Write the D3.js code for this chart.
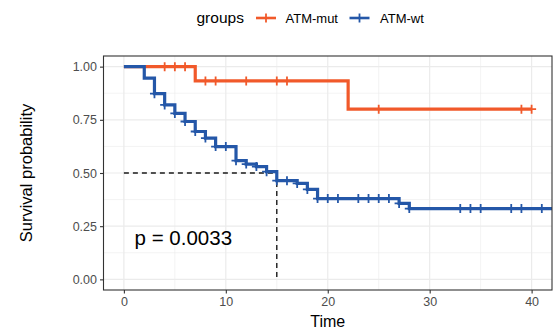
<!DOCTYPE html>
<html>
<head>
<meta charset="utf-8">
<script src="https://cdn.jsdelivr.net/npm/d3@7"></script>
<style>
  body { margin: 0; background: #fff; }
  text { font-family: "Liberation Sans", Arial, sans-serif; }
</style>
</head>
<body>
<div id="chart"></div>
<script>
// data
var groupNames = ["ATM-mut", "ATM-wt"];
var groupColors = ["#F1592A", "#2457A8"];

// step curves: time where survival changes, and the level after it
var mutTimes = [0, 7, 22, 40];
var mutSurv = [1, 0.933, 0.80, 0.80];
var mutCensor = [4, 5, 6, 8, 9, 12, 15, 16, 25, 39, 40];

var wtTimes = [0, 2, 3, 4, 5, 6, 7, 8, 9, 11, 12, 13, 14, 15, 17, 18, 19, 27, 28, 42];
var wtSurv = [1, 0.946, 0.873, 0.82, 0.78, 0.742, 0.695, 0.664, 0.624, 0.558, 0.542, 0.53, 0.506, 0.464, 0.451, 0.423, 0.38, 0.357, 0.333, 0.333];
var wtCensor = [3, 4, 5, 6, 7, 8, 9, 10, 11, 12, 13, 14, 15, 16, 17, 18, 19, 20, 21, 23, 24, 25, 26, 27, 28, 33, 34, 35, 38, 39, 41];

var medianTime = 15;
var pText = "p = 0.0033";

var xTicks = [0, 10, 20, 30, 40];
var xMinor = [5, 15, 25, 35];
var yTicks = [0, 0.25, 0.5, 0.75, 1];
var yMinor = [0.125, 0.375, 0.625, 0.875];

var svgWidth = 553;
var svgHeight = 333;

var margin = { top: 56, right: 1, bottom: 43, left: 103.5 };
var chartWidth = svgWidth - margin.left - margin.right;
var chartHeight = svgHeight - margin.top - margin.bottom;

var x = d3.scaleLinear().domain([-2, 42]).range([0, chartWidth]);
var y = d3.scaleLinear().domain([-0.05, 1.05]).range([chartHeight, 0]);

var svg = d3.select("#chart")
  .append("svg")
  .attr("width", svgWidth)
  .attr("height", svgHeight);

var chartGroup = svg.append("g")
  .attr("transform", `translate(${margin.left}, ${margin.top})`);

// grid
var grid = chartGroup.append("g");
grid.selectAll(".xminor").data(xMinor).enter().append("line")
  .attr("x1", d => x(d)).attr("x2", d => x(d))
  .attr("y1", 0).attr("y2", chartHeight)
  .attr("stroke", "#ebebeb").attr("stroke-width", 0.6);
grid.selectAll(".yminor").data(yMinor).enter().append("line")
  .attr("x1", 0).attr("x2", chartWidth)
  .attr("y1", d => y(d)).attr("y2", d => y(d))
  .attr("stroke", "#ebebeb").attr("stroke-width", 0.6);
grid.selectAll(".xmajor").data(xTicks).enter().append("line")
  .attr("x1", d => x(d)).attr("x2", d => x(d))
  .attr("y1", 0).attr("y2", chartHeight)
  .attr("stroke", "#ebebeb").attr("stroke-width", 1.2);
grid.selectAll(".ymajor").data(yTicks).enter().append("line")
  .attr("x1", 0).attr("x2", chartWidth)
  .attr("y1", d => y(d)).attr("y2", d => y(d))
  .attr("stroke", "#ebebeb").attr("stroke-width", 1.2);

// median lines
chartGroup.append("path")
  .attr("d", `M${x(0)},${y(0.5)}H${x(medianTime)}V${y(0)}`)
  .attr("fill", "none")
  .attr("stroke", "#1a1a1a")
  .attr("stroke-width", 1.4)
  .attr("stroke-dasharray", "5,4");

var stepLine = d3.line()
  .x(d => x(d[0]))
  .y(d => y(d[1]))
  .curve(d3.curveStepAfter);

function survAt(times, surv, t) {
  var i = d3.bisectRight(times, t) - 1;
  return surv[Math.max(i, 0)];
}

var curves = [
  { times: mutTimes, surv: mutSurv, censor: mutCensor, color: groupColors[0] },
  { times: wtTimes, surv: wtSurv, censor: wtCensor, color: groupColors[1] }
];

svg.append("clipPath").attr("id", "panel")
  .append("rect").attr("width", chartWidth).attr("height", chartHeight);

curves.forEach(function(c) {
  var g = chartGroup.append("g").attr("clip-path", "url(#panel)");
  g.append("path")
    .datum(d3.zip(c.times, c.surv))
    .attr("d", stepLine)
    .attr("fill", "none")
    .attr("stroke", c.color)
    .attr("stroke-width", 3.2);
  g.selectAll(".cens").data(c.censor).enter().append("path")
    .attr("d", function(t) {
      var cx = x(t), cy = y(survAt(c.times, c.surv, t));
      return `M${cx - 4.5},${cy}H${cx + 4.5}M${cx},${cy - 4.5}V${cy + 4.5}`;
    })
    .attr("stroke", c.color)
    .attr("stroke-width", 1.8);
});

// p-value
chartGroup.append("text")
  .attr("x", x(1.05))
  .attr("y", y(0.16))
  .attr("font-size", "20.5px")
  .attr("fill", "#000")
  .text(pText);

// panel border
chartGroup.append("rect")
  .attr("width", chartWidth)
  .attr("height", chartHeight)
  .attr("fill", "none")
  .attr("stroke", "#333")
  .attr("stroke-width", 1.1);

// axes
var xAxis = chartGroup.append("g")
  .attr("transform", "translate(0," + chartHeight + ")")
  .call(d3.axisBottom(x).tickValues(xTicks).tickSize(3.5).tickPadding(4));
var yAxis = chartGroup.append("g")
  .call(d3.axisLeft(y).tickValues(yTicks).tickFormat(d3.format(".2f")).tickSize(3.5).tickPadding(3));

[xAxis, yAxis].forEach(function(a) {
  a.select(".domain").remove();
  a.selectAll(".tick line").attr("stroke", "#333").attr("stroke-width", 1.1);
  a.selectAll(".tick text")
    .attr("fill", "#4d4d4d")
    .attr("font-size", "12.5px")
    .attr("font-family", "Liberation Sans, Arial, sans-serif");
});

svg.append("text")
  .attr("x", margin.left + x(20))
  .attr("y", 327)
  .attr("text-anchor", "middle")
  .attr("font-size", "16px")
  .text("Time");

svg.append("text")
  .attr("transform", `translate(32, ${margin.top + y(0.5)}) rotate(-90)`)
  .attr("text-anchor", "middle")
  .attr("font-size", "16.5px")
  .text("Survival probability");

// legend
var legend = svg.append("g");
legend.append("text")
  .attr("x", 196.5)
  .attr("y", 23)
  .attr("font-size", "15.5px")
  .text("groups");

var legendItems = [
  { sx: 256, tx: 285.5 },
  { sx: 349.5, tx: 380 }
];
legendItems.forEach(function(p, i) {
  legend.append("path")
    .attr("d", `M${p.sx},18H${p.sx + 20}`)
    .attr("stroke", groupColors[i])
    .attr("stroke-width", 2.6);
  legend.append("path")
    .attr("d", `M${p.sx + 10},13.5V22.5`)
    .attr("stroke", groupColors[i])
    .attr("stroke-width", 1.8);
  legend.append("text")
    .attr("x", p.tx)
    .attr("y", 22.5)
    .attr("font-size", "13px")
    .text(groupNames[i]);
});
</script>
</body>
</html>
